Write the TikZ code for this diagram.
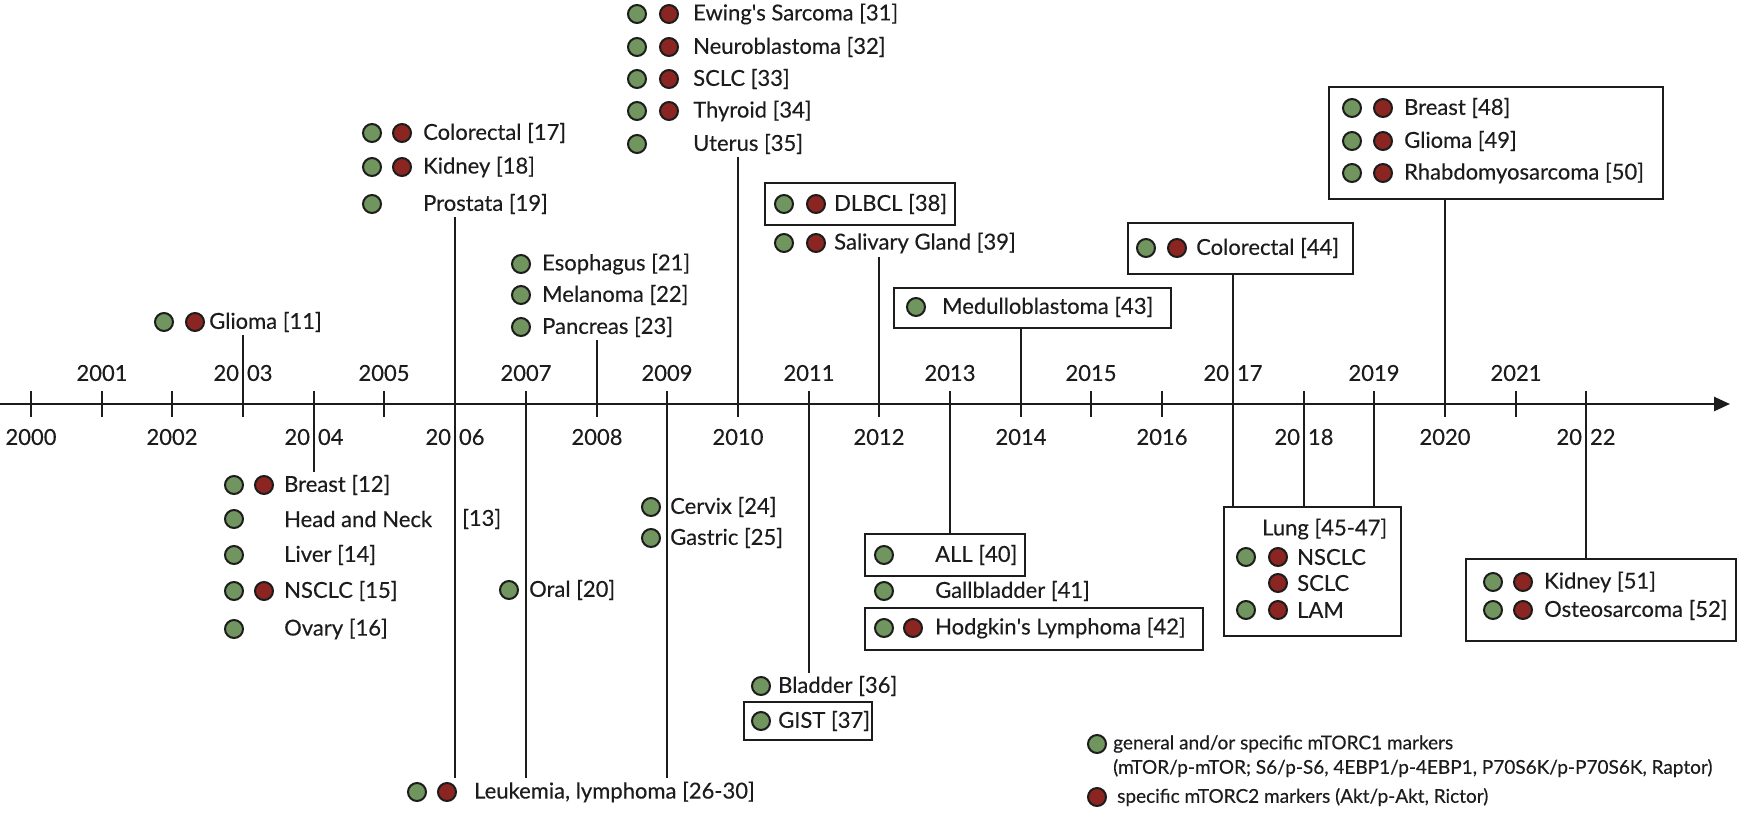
\documentclass[tikz,border=0pt]{standalone}
\usepackage{fontspec}
\setmainfont{Lato}
\newfontfamily\figfont{Lato}[FakeBold=0.3]
\usetikzlibrary{arrows.meta}

\definecolor{markone}{RGB}{112,149,95}
\definecolor{marktwo}{RGB}{138,37,33}
\definecolor{inkgray}{RGB}{28,28,28}

\begin{document}
\begin{tikzpicture}[x=1pt, y=-1pt, color=inkgray,
    line/.style={line width=2.2pt},
    gdot/.style={circle, draw=inkgray, line width=2pt, fill=markone, minimum size=18pt, inner sep=0pt},
    rdot/.style={gdot, fill=marktwo},
    lbl/.style={anchor=west, inner xsep=0pt, inner ysep=3pt, font=\figfont\fontsize{22}{26}\selectfont},
    yrlbl/.style={inner sep=0pt, font=\figfont\fontsize{22}{26}\selectfont},
    legend/.style={lbl, font=\figfont\fontsize{19}{23}\selectfont},
    box/.style={draw=inkgray, line width=2.2pt, anchor=north west, inner sep=0pt}]

    \useasboundingbox (0,0) rectangle (1746,815);

    % Zeitachse
    \draw[line, line width=2.6pt, -{Triangle[length=16pt, width=14pt]}] (0,404) -- (1730,404);
    \foreach \yr in {2000,...,2022} {
        \coordinate (y\yr) at ({round(31+70.7*(\yr-2000))},404);
        \draw[line] ([yshift=13pt]y\yr) -- ([yshift=-13pt]y\yr);
    }
    \foreach \yr/\lab in {2001/2001, 2003/{20\hspace{8pt}03}, 2005/2005, 2007/2007, 2009/2009, 2011/2011,
                          2013/2013, 2015/2015, 2017/{20\hspace{8pt}17}, 2019/2019, 2021/2021}
        \node[yrlbl] (lab\yr) at ([yshift=31pt]y\yr) {\lab};
    \foreach \yr/\lab in {2000/2000, 2002/2002, 2004/{20\hspace{8pt}04}, 2006/{20\hspace{8pt}06}, 2008/2008, 2010/2010,
                          2012/2012, 2014/2014, 2016/2016, 2018/{20\hspace{8pt}18}, 2020/2020, 2022/{20\hspace{8pt}22}}
        \node[yrlbl] (lab\yr) at ([yshift=-33pt]y\yr) {\lab};

    % 2003
    \node[gdot] (g11) at (164,322) {};
    \node[rdot] (r11) at (195,322) {};
    \node[lbl] (t11) at (209,322) {Glioma [11]};
    \draw[line] (t11.south -| y2003) -- (y2003);

    % 2004
    \foreach \n/\y/\hasr/\txt in {12/485/1/Breast [12], 13/519/0/Head and Neck, 14/555/0/Liver [14],
                                  15/591/1/NSCLC [15], 16/629/0/Ovary [16]} {
        \node[gdot] (g\n) at (234,\y) {};
        \ifnum\hasr=1 \node[rdot] (r\n) at (264,\y) {}; \fi
        \node[lbl] (t\n) at (284,\y) {\txt};
    }
    \node[lbl] (t13b) at (462,519) {[13]};
    \draw[line] (y2004) -- (y2004 |- t12.north);

    % 2005/2006
    \foreach \n/\y/\hasr/\txt in {17/133/1/Colorectal [17], 18/167/1/Kidney [18], 19/204/0/Prostata [19]} {
        \node[gdot] (g\n) at (372,\y) {};
        \ifnum\hasr=1 \node[rdot] (r\n) at (402,\y) {}; \fi
        \node[lbl] (t\n) at (423,\y) {\txt};
    }
    \node[gdot] (g26) at (417,792) {};
    \node[rdot] (r26) at (447,792) {};
    \node[lbl] (t26) at (474,792) {Leukemia, lymphoma [26-30]};
    \draw[line] (t19.south -| y2006) -- (y2006 |- t26.north);

    % 2007
    \node[gdot] (g20) at (509,590) {};
    \node[lbl] (t20) at (529,590) {Oral [20]};
    \draw[line] (y2007) -- (y2007 |- t26.north);

    % 2008
    \foreach \n/\y/\txt in {21/264/Esophagus [21], 22/295/Melanoma [22], 23/327/Pancreas [23]} {
        \node[gdot] (g\n) at (521,\y) {};
        \node[lbl] (t\n) at (542,\y) {\txt};
    }
    \draw[line] (t23.south -| y2008) -- (y2008);

    % 2009
    \foreach \n/\y/\txt in {24/507/Cervix [24], 25/538/Gastric [25]} {
        \node[gdot] (g\n) at (651,\y) {};
        \node[lbl] (t\n) at (670,\y) {\txt};
    }
    \draw[line] (y2009) -- (y2009 |- t26.north);

    % 2010
    \foreach \n/\y/\hasr/\txt in {31/14/1/Ewing\textquotesingle s Sarcoma [31], 32/47/1/Neuroblastoma [32], 33/79/1/SCLC [33],
                                  34/111/1/Thyroid [34], 35/144/0/Uterus [35]} {
        \node[gdot] (g\n) at (637,\y) {};
        \ifnum\hasr=1 \node[rdot] (r\n) at (669,\y) {}; \fi
        \node[lbl] (t\n) at (693,\y) {\txt};
    }
    \draw[line] (t35.south -| y2010) -- (y2010);

    % 2011
    \node[gdot] (g36) at (761,686) {};
    \node[lbl] (t36) at (778,686) {Bladder [36]};
    \node[box, minimum width=128pt, minimum height=38pt] (gistbox) at (743,701) {};
    \node[gdot] (g37) at (761,721) {};
    \node[lbl] (t37) at (778,721) {GIST [37]};
    \draw[line] (y2011) -- (y2011 |- t36.north);

    % 2012
    \node[box, minimum width=190pt, minimum height=42pt] (dlbclbox) at (764,182) {};
    \foreach \n/\y/\txt in {38/204/DLBCL [38], 39/243/Salivary Gland [39]} {
        \node[gdot] (g\n) at (784,\y) {};
        \node[rdot] (r\n) at (816,\y) {};
        \node[lbl] (t\n) at (834,\y) {\txt};
    }
    \draw[line] (t39.south -| y2012) -- (y2012);

    % 2013
    \node[box, minimum width=160pt, minimum height=42pt] (allbox) at (864,533) {};
    \node[box, minimum width=338pt, minimum height=42pt] (hodgbox) at (864,607) {};
    \foreach \n/\y/\hasr/\txt in {40/555/0/ALL [40], 41/591/0/Gallbladder [41], 42/628/1/Hodgkin\textquotesingle s Lymphoma [42]} {
        \node[gdot] (g\n) at (884,\y) {};
        \ifnum\hasr=1 \node[rdot] (r\n) at (913,\y) {}; \fi
        \node[lbl] (t\n) at (935,\y) {\txt};
    }
    \draw[line] (y2013) -- (y2013 |- allbox.north);

    % 2014
    \node[box, minimum width=277pt, minimum height=40pt] (medbox) at (893,287) {};
    \node[gdot] (g43) at (916,307) {};
    \node[lbl] (t43) at (942,307) {Medulloblastoma [43]};
    \draw[line] (medbox.south -| y2014) -- (y2014);

    % 2017
    \node[box, minimum width=225pt, minimum height=51pt] (crbox) at (1127,222) {};
    \node[gdot] (g44) at (1146,248) {};
    \node[rdot] (r44) at (1177,248) {};
    \node[lbl] (t44) at (1196,248) {Colorectal [44]};

    % 2017-2019 Lunge
    \node[box, minimum width=177pt, minimum height=129pt] (lungbox) at (1223,506) {};
    \node[lbl] (t45) at (1262,529) {Lung [45-47]};
    \foreach \n/\y/\hasg/\txt in {a/557/1/NSCLC, b/583/0/SCLC, c/610/1/LAM} {
        \ifnum\hasg=1 \node[gdot] (gl\n) at (1246,\y) {}; \fi
        \node[rdot] (rl\n) at (1278,\y) {};
        \node[lbl] (tl\n) at (1297,\y) {\txt};
    }
    \draw[line] (crbox.south -| y2017) -- (y2017 |- lungbox.north);
    \draw[line] (y2018) -- (y2018 |- lungbox.north);
    \draw[line] (y2019) -- (y2019 |- lungbox.north);

    % 2020
    \node[box, minimum width=334pt, minimum height=112pt] (topbox) at (1328,86) {};
    \foreach \n/\y/\txt in {48/108/Breast [48], 49/141/Glioma [49], 50/173/Rhabdomyosarcoma [50]} {
        \node[gdot] (g\n) at (1352,\y) {};
        \node[rdot] (r\n) at (1383,\y) {};
        \node[lbl] (t\n) at (1404,\y) {\txt};
    }
    \draw[line] (topbox.south -| y2020) -- (y2020);

    % 2022
    \node[box, minimum width=270pt, minimum height=82pt] (kidbox) at (1465,558) {};
    \foreach \n/\y/\txt in {51/582/Kidney [51], 52/610/Osteosarcoma [52]} {
        \node[gdot] (g\n) at (1493,\y) {};
        \node[rdot] (r\n) at (1523,\y) {};
        \node[lbl] (t\n) at (1544,\y) {\txt};
    }
    \draw[line] (y2022) -- (y2022 |- kidbox.north);

    % Legende
    \node[gdot] (lg1) at (1097,744) {};
    \node[legend] (lt1) at (1113,744) {general and/or specific mTORC1 markers};
    \node[legend] (lt2) at (1113,768) {(mTOR/p-mTOR; S6/p-S6, 4EBP1/p-4EBP1, P70S6K/p-P70S6K, Raptor)};
    \node[rdot] (lg2) at (1097,797) {};
    \node[legend] (lt3) at (1117,797) {specific mTORC2 markers (Akt/p-Akt, Rictor)};
\end{tikzpicture}
\end{document}
